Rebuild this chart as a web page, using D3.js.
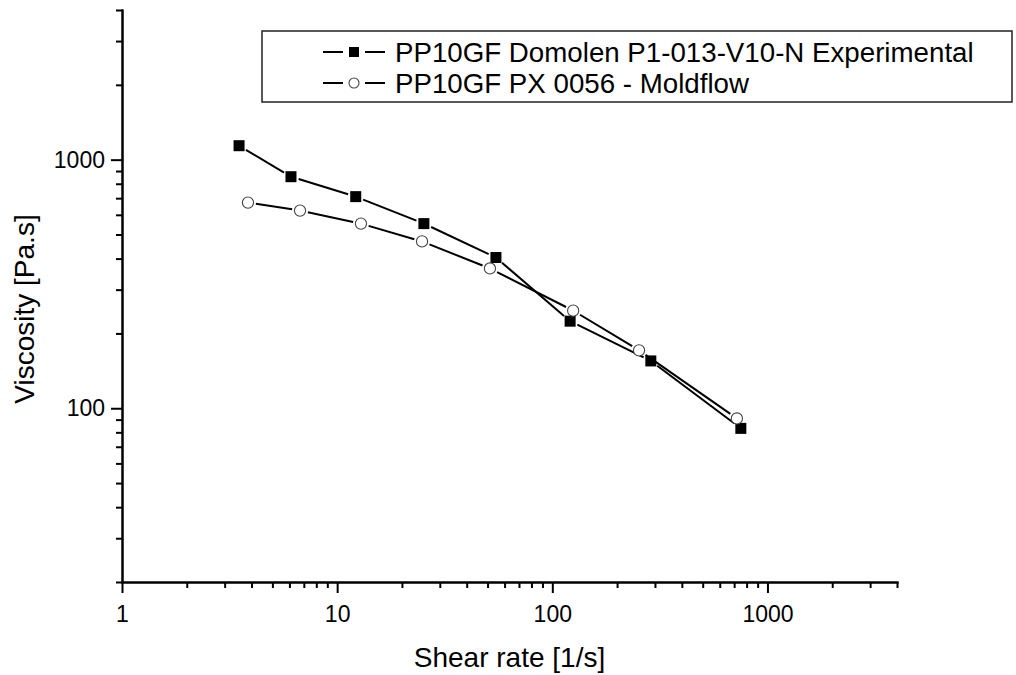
<!DOCTYPE html>
<html>
<head>
<meta charset="utf-8">
<script src="https://cdn.jsdelivr.net/npm/d3@7"></script>
<style>
    body { margin: 0; background: #fff; }
    svg { display: block; font-family: "Liberation Sans", Arial, sans-serif; }
    .axis path, .axis line { stroke: #000; stroke-width: 2px; }
    .axis text { font-size: 23px; fill: #000; font-family: "Liberation Sans", Arial, sans-serif; }
</style>
</head>
<body>
<svg id="chart"></svg>
<script>
// shear rate [1/s] and viscosity [Pa.s]
const exp_rate = [3.5, 6.1, 12.2, 25.3, 54.7, 121, 287, 752];
const exp_visc = [1138, 854, 710, 553, 404, 224, 155, 83];
const mf_rate = [3.85, 6.72, 12.9, 24.8, 51.3, 125, 253, 721];
const mf_visc = [672, 624, 553, 469, 365, 247, 171, 91];

const series_names = ["PP10GF Domolen P1-013-V10-N Experimental", "PP10GF PX 0056 - Moldflow"];

const x_major = [1, 10, 100, 1000];
const x_minor = [2,3,4,5,6,7,8,9, 20,30,40,50,60,70,80,90, 200,300,400,500,600,700,800,900, 2000,3000,4000];
const y_major = [100, 1000];
const y_minor = [20,30,40,50,60,70,80,90, 200,300,400,500,600,700,800,900, 2000,3000,4000];

const W = 1016, H = 675;
const margin = {top: 10, right: 119, bottom: 93, left: 122},
    width = W - margin.left - margin.right,
    height = H - margin.top - margin.bottom;

const svg = d3.select("#chart").attr("width", W).attr("height", H);
const g = svg.append("g").attr("transform", "translate(" + margin.left + "," + margin.top + ")");

const x = d3.scaleLog().domain([1, 4000]).range([0, width]);
const y = d3.scaleLog().domain([20, 4000]).range([height, 0]);

// minor ticks first, then majors with labels
g.append("g").attr("class", "axis")
    .attr("transform", "translate(0," + height + ")")
    .call(d3.axisBottom(x).tickValues(x_minor).tickSize(6).tickSizeOuter(0).tickFormat(""));
g.append("g").attr("class", "axis")
    .attr("transform", "translate(0," + height + ")")
    .call(d3.axisBottom(x).tickValues(x_major).tickSize(11).tickSizeOuter(0).tickPadding(13).tickFormat(d3.format("d")));

g.append("g").attr("class", "axis")
    .call(d3.axisLeft(y).tickValues(y_minor).tickSize(6).tickSizeOuter(0).tickFormat(""));
g.append("g").attr("class", "axis")
    .call(d3.axisLeft(y).tickValues(y_major).tickSize(11).tickSizeOuter(0).tickPadding(6).tickFormat(d3.format("d")));

g.selectAll(".axis .domain").attr("stroke-linecap", "square");

// axis titles
svg.append("text")
    .attr("x", margin.left + width / 2)
    .attr("y", 667)
    .attr("text-anchor", "middle")
    .style("font-size", "28px")
    .text("Shear rate [1/s]");

svg.append("text")
    .attr("transform", "translate(34,309) rotate(-90)")
    .attr("text-anchor", "middle")
    .style("font-size", "28px")
    .text("Viscosity [Pa.s]");

// lines with a little gap around each marker, like Origin does
function gapSegments(xs, ys, gap) {
    const pts = xs.map(function (d, i) { return [x(d), y(ys[i])]; });
    const segs = [];
    for (let i = 0; i < pts.length - 1; i++) {
        const dx = pts[i+1][0] - pts[i][0], dy = pts[i+1][1] - pts[i][1];
        const len = Math.sqrt(dx*dx + dy*dy);
        if (len <= 2 * gap) continue;
        const ux = dx / len, uy = dy / len;
        segs.push([pts[i][0] + ux*gap, pts[i][1] + uy*gap, pts[i+1][0] - ux*gap, pts[i+1][1] - uy*gap]);
    }
    return segs;
}

const plot = g.append("g");

plot.selectAll(".seg-exp")
    .data(gapSegments(exp_rate, exp_visc, 8))
    .enter().append("line")
    .attr("class", "seg-exp")
    .attr("x1", d => d[0]).attr("y1", d => d[1])
    .attr("x2", d => d[2]).attr("y2", d => d[3])
    .attr("stroke", "#000").attr("stroke-width", 2);

plot.selectAll(".seg-mf")
    .data(gapSegments(mf_rate, mf_visc, 8))
    .enter().append("line")
    .attr("class", "seg-mf")
    .attr("x1", d => d[0]).attr("y1", d => d[1])
    .attr("x2", d => d[2]).attr("y2", d => d[3])
    .attr("stroke", "#000").attr("stroke-width", 2);

const sq = 11;
plot.selectAll(".sq")
    .data(exp_rate)
    .enter().append("rect")
    .attr("class", "sq")
    .attr("x", (d, i) => x(d) - sq / 2)
    .attr("y", (d, i) => y(exp_visc[i]) - sq / 2)
    .attr("width", sq).attr("height", sq)
    .attr("fill", "#000");

plot.selectAll(".ci")
    .data(mf_rate)
    .enter().append("circle")
    .attr("class", "ci")
    .attr("cx", d => x(d))
    .attr("cy", (d, i) => y(mf_visc[i]))
    .attr("r", 5.6)
    .attr("fill", "#fff")
    .attr("stroke", "#444")
    .attr("stroke-width", 1.1);

// legend
const leg = svg.append("g");
leg.append("rect")
    .attr("x", 262).attr("y", 31)
    .attr("width", 750).attr("height", 71)
    .attr("fill", "#fff").attr("stroke", "#222").attr("stroke-width", 1.5);

const rows = leg.selectAll(".row")
    .data(series_names)
    .enter().append("g")
    .attr("class", "row")
    .attr("transform", (d, i) => "translate(0," + (52 + i * 31) + ")");

rows.append("line").attr("x1", 323).attr("x2", 343).attr("y1", 0).attr("y2", 0)
    .attr("stroke", "#000").attr("stroke-width", 2);
rows.append("line").attr("x1", 365).attr("x2", 385).attr("y1", 0).attr("y2", 0)
    .attr("stroke", "#000").attr("stroke-width", 2);

rows.filter((d, i) => i === 0).append("rect")
    .attr("x", 349).attr("y", -5).attr("width", 10).attr("height", 10).attr("fill", "#000");
rows.filter((d, i) => i === 1).append("circle")
    .attr("cx", 354).attr("cy", 0).attr("r", 5)
    .attr("fill", "#fff").attr("stroke", "#444").attr("stroke-width", 1.1);

rows.append("text")
    .attr("x", 395).attr("y", 10)
    .style("font-size", "27.7px")
    .text(d => d);
</script>
</body>
</html>
